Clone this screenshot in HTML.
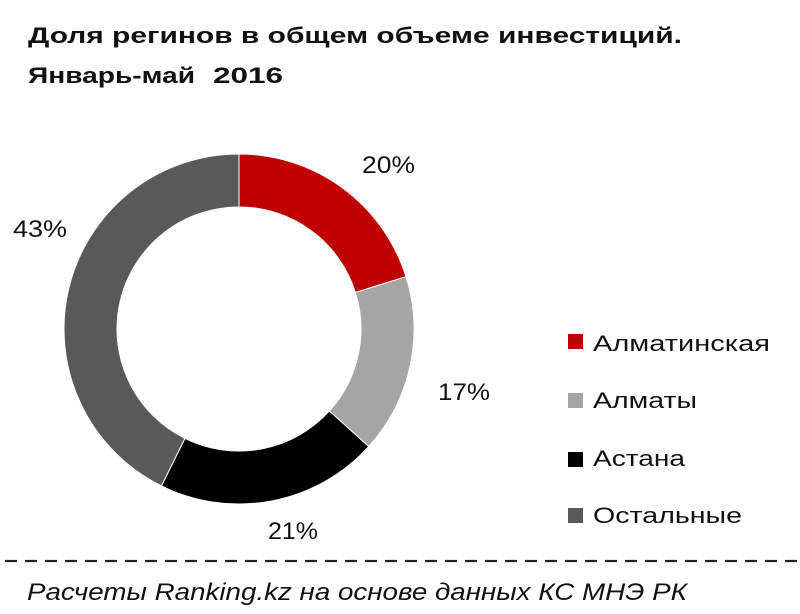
<!DOCTYPE html>
<html>
<head>
<meta charset="utf-8">
<style>
  html,body{margin:0;padding:0;background:#fff;}
  svg{display:block;}
  text{font-family:"Liberation Sans","DejaVu Sans",sans-serif;}
</style>
</head>
<body>
<svg width="800" height="614" viewBox="0 0 800 614" xmlns="http://www.w3.org/2000/svg">
  <rect width="800" height="614" fill="#fff"/>
  <!-- Title -->
  <text x="28" y="43" font-size="22" font-weight="bold" fill="#111" textLength="654" lengthAdjust="spacingAndGlyphs">Доля регинов в общем объеме инвестиций.</text>
  <text x="28" y="83" font-size="22" font-weight="bold" fill="#111" textLength="167" lengthAdjust="spacingAndGlyphs">Январь-май</text>
  <text x="213" y="83" font-size="22" font-weight="bold" fill="#111" textLength="70" lengthAdjust="spacingAndGlyphs">2016</text>

  <!-- Donut -->
  <g stroke="#fff" stroke-width="1">
    <path d="M239,154 A175,175 0 0 1 405.99,276.67 L355.41,292.52 A122,122 0 0 0 239,207 Z" fill="#C00000"/>
    <path d="M405.99,276.67 A175,175 0 0 1 368.64,446.55 L329.38,410.95 A122,122 0 0 0 355.41,292.52 Z" fill="#A5A5A5"/>
    <path d="M368.64,446.55 A175,175 0 0 1 161.46,485.89 L184.94,438.37 A122,122 0 0 0 329.38,410.95 Z" fill="#000000"/>
    <path d="M161.46,485.89 A175,175 0 0 1 239,154 L239,207 A122,122 0 0 0 184.94,438.37 Z" fill="#595959"/>
  </g>

  <!-- Data labels -->
  <text x="362" y="173" font-size="24" fill="#111" textLength="53" lengthAdjust="spacingAndGlyphs">20%</text>
  <text x="438" y="400" font-size="24" fill="#111" textLength="52" lengthAdjust="spacingAndGlyphs">17%</text>
  <text x="268" y="539" font-size="24" fill="#111" textLength="50" lengthAdjust="spacingAndGlyphs">21%</text>
  <text x="13" y="237" font-size="24" fill="#111" textLength="54" lengthAdjust="spacingAndGlyphs">43%</text>

  <!-- Legend -->
  <rect x="568" y="334" width="15" height="15" fill="#C00000"/>
  <text x="593" y="351" font-size="22" fill="#111" textLength="177" lengthAdjust="spacingAndGlyphs">Алматинская</text>
  <rect x="568" y="393" width="15" height="15" fill="#A5A5A5"/>
  <text x="593" y="408" font-size="22" fill="#111" textLength="104" lengthAdjust="spacingAndGlyphs">Алматы</text>
  <rect x="568" y="452" width="15" height="15" fill="#000000"/>
  <text x="593" y="466" font-size="22" fill="#111" textLength="92" lengthAdjust="spacingAndGlyphs">Астана</text>
  <rect x="568" y="508" width="15" height="15" fill="#595959"/>
  <text x="593" y="523" font-size="22" fill="#111" textLength="149" lengthAdjust="spacingAndGlyphs">Остальные</text>

  <!-- Dashed separator -->
  <line x1="5" y1="561" x2="798" y2="561" stroke="#222" stroke-width="2.2" stroke-dasharray="12 8"/>

  <!-- Footer -->
  <text x="27" y="600" font-size="24" font-style="italic" fill="#111" textLength="660" lengthAdjust="spacingAndGlyphs">Расчеты Ranking.kz на основе данных  КС МНЭ РК</text>
</svg>
</body>
</html>
